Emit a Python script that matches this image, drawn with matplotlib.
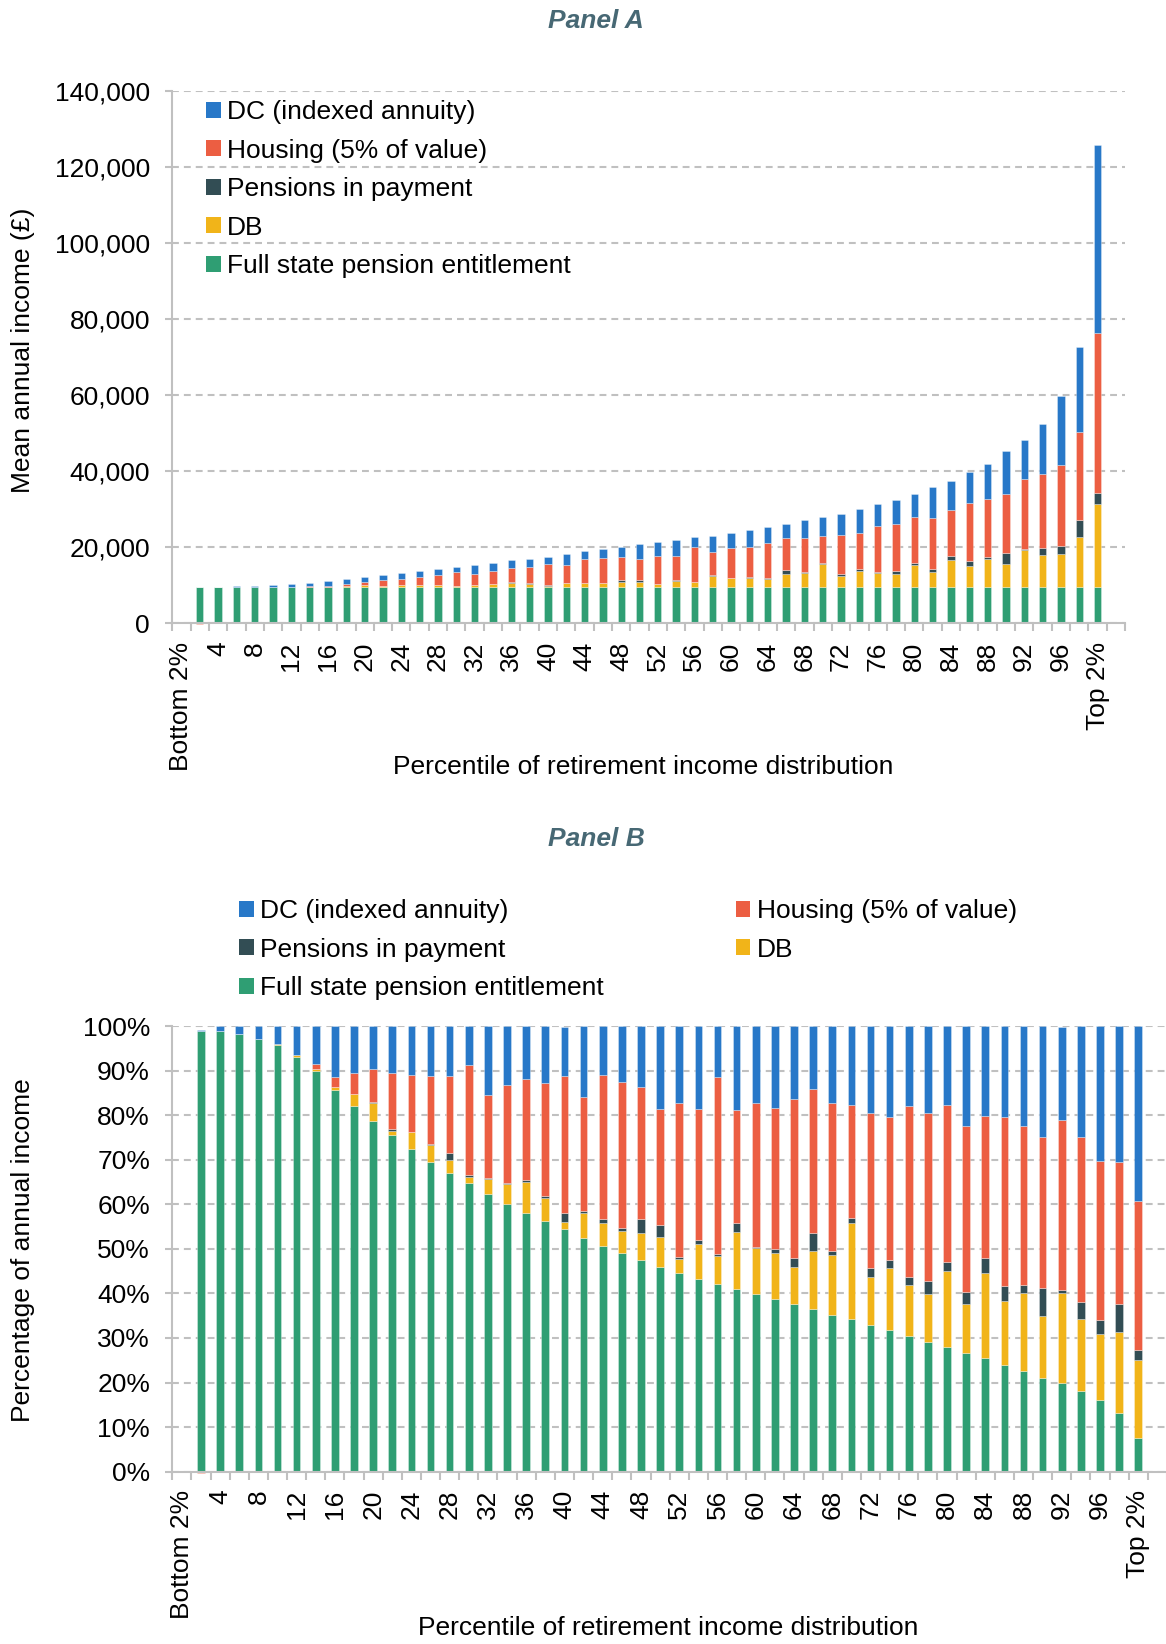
import numpy as np
import matplotlib
matplotlib.use("Agg")
import matplotlib.pyplot as plt
from matplotlib.patches import Patch
from matplotlib.ticker import FuncFormatter

plt.rcParams['font.family'] = ['Liberation Sans', 'DejaVu Sans']

# series, bottom of the stack first
series_names = ["Full state pension entitlement", "DB", "Pensions in payment",
                "Housing (5% of value)", "DC (indexed annuity)"]
series_colors = ["#2f9e73", "#f1b419", "#324d54", "#ec5e42", "#2878c8"]

# x axis: 52 category slots, bars sit in slots 1..50
tick_slots = [0, 2, 4, 6, 8, 10, 12, 14, 16, 18, 20, 22, 24, 26, 28, 30, 32, 34, 36, 38,
              40, 42, 44, 46, 48, 50]
tick_labels = ["Bottom 2%", "4", "8", "12", "16", "20", "24", "28", "32", "36", "40", "44",
               "48", "52", "56", "60", "64", "68", "72", "76", "80", "84", "88", "92", "96",
               "Top 2%"]

# Panel A - mean annual income (GBP)
state_a = [9600, 9600, 9600, 9600, 9600, 9600, 9600, 9600, 9600, 9600,
           9600, 9600, 9600, 9600, 9600, 9600, 9600, 9600, 9600, 9600,
           9600, 9600, 9600, 9600, 9600, 9600, 9600, 9600, 9600, 9600,
           9600, 9600, 9600, 9600, 9600, 9600, 9600, 9600, 9600, 9600,
           9600, 9600, 9600, 9600, 9600, 9600, 9600, 9600, 9600, 9600]
db_a = [0, 0, 0, 0, 20, 40, 40, 80, 320, 490,
        130, 510, 540, 420, 210, 490, 720, 1170, 890, 280,
        1010, 970, 960, 1240, 1400, 660, 1600, 1300, 2800, 2400,
        2480, 2050, 3300, 3580, 6000, 2950, 4100, 3560, 3350, 5740,
        3830, 7000, 5640, 7270, 6150, 9720, 8400, 8800, 13200, 21800]
pip_a = [0, 0, 0, 0, 0, 0, 0, 0, 0, 40,
         50, 10, 10, 230, 40, 30, 20, 50, 50, 350,
         70, 170, 140, 650, 560, 90, 250, 80, 480, 50,
         180, 420, 1060, 230, 250, 580, 500, 450, 900, 690,
         1000, 1260, 1270, 700, 2890, 390, 1930, 1920, 4480, 3000]
housing_a = [-40, 0, 0, 0, 0, 0, 120, 250, 560, 890,
             1590, 1690, 2120, 2480, 3690, 2880, 3530, 3760, 4340, 5410,
             4710, 6140, 6420, 6000, 5430, 7370, 6400, 9050, 5900, 7700,
             7850, 9150, 8450, 8980, 7100, 10100, 9700, 12150, 12420, 12040,
             13400, 12100, 15100, 15100, 15320, 18380, 19440, 21340, 23160, 42000]
dc_a = [100, 120, 180, 330, 420, 670, 920, 1280, 1230, 1180,
        1330, 1480, 1550, 1590, 1300, 2390, 2150, 2000, 2190, 1960,
        2910, 2080, 2450, 2740, 3860, 3600, 4100, 2600, 4350, 4150,
        4470, 4120, 3700, 4700, 4920, 5680, 6180, 5600, 6320, 6100,
        8000, 7420, 8180, 9380, 11270, 10070, 13180, 18180, 22280, 49400]

# Panel B - percentage of annual income
state_b = [98.9, 98.8, 98.2, 97.0, 95.8, 93.1, 89.9, 85.6, 82.0, 78.7,
           75.5, 72.4, 69.5, 67.0, 64.8, 62.4, 60.1, 58.1, 56.3, 54.4,
           52.5, 50.6, 49.1, 47.5, 46.0, 44.6, 43.2, 42.2, 41.1, 39.9,
           38.8, 37.7, 36.4, 35.2, 34.2, 33.0, 31.8, 30.4, 29.2, 28.0,
           26.6, 25.6, 24.0, 22.7, 21.1, 19.8, 18.2, 16.0, 13.2, 7.6]
db_b = [0, 0, 0, 0, 0.2, 0.4, 0.4, 0.7, 2.7, 4.0,
        1.0, 3.8, 3.9, 2.9, 1.4, 3.2, 4.5, 7.0, 5.2, 1.6,
        5.5, 5.1, 4.9, 6.1, 6.7, 3.1, 7.8, 6.3, 12.7, 10.4,
        10.3, 8.3, 13.1, 13.4, 21.7, 10.7, 14.0, 11.4, 10.6, 17.1,
        11.0, 18.9, 14.4, 17.4, 13.8, 20.3, 16.1, 14.9, 18.2, 17.4]
pip_b = [0, 0, 0, 0, 0, 0, 0, 0, 0, 0.3,
         0.4, 0.1, 0.1, 1.6, 0.3, 0.2, 0.1, 0.3, 0.3, 2.0,
         0.4, 0.9, 0.7, 3.2, 2.7, 0.4, 1.0, 0.3, 2.0, 0.2,
         0.9, 1.9, 4.1, 1.0, 1.0, 1.9, 1.8, 1.8, 2.9, 2.0,
         2.7, 3.5, 3.3, 1.7, 6.4, 0.7, 3.7, 3.2, 6.2, 2.3]
housing_b = [-0.4, 0, 0, 0, 0, 0, 1.1, 2.2, 4.8, 7.3,
             12.5, 12.7, 15.3, 17.3, 24.8, 18.7, 22.0, 22.6, 25.4, 30.7,
             25.7, 32.4, 32.8, 29.6, 26.0, 34.6, 29.3, 39.7, 25.4, 32.2,
             31.7, 35.7, 32.3, 33.1, 25.4, 34.8, 31.9, 38.5, 37.8, 35.1,
             37.2, 31.9, 37.8, 35.8, 33.9, 38.1, 37.0, 35.6, 31.8, 33.4]
dc_b = [0.3, 1.2, 1.8, 3.0, 4.0, 6.5, 8.6, 11.4, 10.5, 9.6,
        10.5, 11.1, 11.2, 11.1, 8.7, 15.5, 13.4, 12.0, 12.8, 11.1,
        15.9, 11.0, 12.5, 13.5, 18.5, 17.3, 18.7, 11.5, 18.7, 17.3,
        18.2, 16.4, 14.1, 17.2, 17.7, 19.6, 20.5, 17.8, 19.4, 17.8,
        22.5, 20.0, 20.5, 22.3, 24.9, 20.9, 24.9, 30.3, 30.7, 39.3]

FS = 19
GRID = '#c0c0c0'
W, H = 1166, 1644

fig = plt.figure(figsize=(W / 100, H / 100), dpi=100)


def fx(px):
    return px / W


def fy(py):
    return 1 - py / H


def stacked(ax, layers):
    n = len(layers[0])
    xpos = np.arange(1, n + 1)
    pos = np.zeros(n)
    neg = np.zeros(n)
    for vals, col in zip(layers, series_colors):
        v = np.asarray(vals, dtype=float)
        base = np.where(v >= 0, pos, neg)
        ax.bar(xpos, v, 0.4, bottom=base, color=col, edgecolor=(1, 1, 1, 0.45),
               linewidth=0.5, zorder=3, clip_on=False)
        pos += np.clip(v, 0, None)
        neg += np.clip(v, None, 0)


def style_axes(ax):
    ax.set_xlim(-0.5, 51.5)
    ax.set_xticks(np.arange(-0.5, 52, 1), minor=True)
    ax.set_xticks(tick_slots)
    ax.set_xticklabels(tick_labels, rotation=90, fontsize=FS)
    ax.tick_params(axis='x', which='major', length=0, pad=13)
    ax.tick_params(axis='x', which='minor', length=6, width=1.5, color=GRID)
    ax.tick_params(axis='y', which='major', length=5, width=1.5, color=GRID,
                   pad=11, labelsize=FS)
    for s in ['top', 'right']:
        ax.spines[s].set_visible(False)
    for s in ['left', 'bottom']:
        ax.spines[s].set_color(GRID)
        ax.spines[s].set_linewidth(1.5)
        ax.spines[s].set_zorder(4)
    ax.yaxis.grid(True, color=GRID, linewidth=1.5, linestyle=(0, (3.3, 2.4)))
    ax.set_axisbelow(True)


# ---------------- Panel A ----------------
axA = fig.add_axes([fx(172.3), fy(623.5), fx(1125 - 172.3), (623.5 - 91) / H])
stacked(axA, [state_a, db_a, pip_a, housing_a, dc_a])
style_axes(axA)
axA.set_ylim(0, 140000)
axA.set_yticks(np.arange(0, 140001, 20000))
axA.yaxis.set_major_formatter(FuncFormatter(lambda v, p: f"{int(v):,}"))

hA = [Patch(facecolor=c) for c in series_colors][::-1]
axA.legend(hA, series_names[::-1], loc='upper left',
           bbox_to_anchor=(fx(206), fy(100)), bbox_transform=fig.transFigure,
           frameon=False, fontsize=FS, handlelength=0.55, handleheight=0.55,
           handletextpad=0.25, labelspacing=0.55, borderaxespad=0, borderpad=0)

fig.text(fx(596), fy(21), "Panel A", ha='center', va='center', fontsize=FS,
         fontweight='bold', style='italic', color='#476874')
fig.text(fx(23), fy(350), "Mean annual income (£)", rotation=90, ha='center',
         va='center', fontsize=FS)
fig.text(fx(643), fy(767), "Percentile of retirement income distribution",
         ha='center', va='center', fontsize=FS)

# ---------------- Panel B ----------------
axB = fig.add_axes([fx(172.3), fy(1471.7), fx(1167 - 172.3), (1471.7 - 1026) / H])
stacked(axB, [state_b, db_b, pip_b, housing_b, dc_b])
style_axes(axB)
axB.set_ylim(0, 100)
axB.set_yticks(np.arange(0, 101, 10))
axB.yaxis.set_major_formatter(FuncFormatter(lambda v, p: f"{int(v)}%"))

order = [4, 2, 0, 3, 1]
hB = [Patch(facecolor=series_colors[i]) for i in order]
axB.legend(hB, [series_names[i] for i in order], loc='upper left', ncol=2,
           bbox_to_anchor=(fx(239), fy(899)), bbox_transform=fig.transFigure,
           frameon=False, fontsize=FS, handlelength=0.55, handleheight=0.55,
           handletextpad=0.25, labelspacing=0.55, columnspacing=5.0,
           borderaxespad=0, borderpad=0)

fig.text(fx(596), fy(839), "Panel B", ha='center', va='center', fontsize=FS,
         fontweight='bold', style='italic', color='#476874')
fig.text(fx(23), fy(1250), "Percentage of annual income", rotation=90, ha='center',
         va='center', fontsize=FS)
fig.text(fx(668), fy(1628), "Percentile of retirement income distribution",
         ha='center', va='center', fontsize=FS)

fig.savefig("out.png", dpi=100)
